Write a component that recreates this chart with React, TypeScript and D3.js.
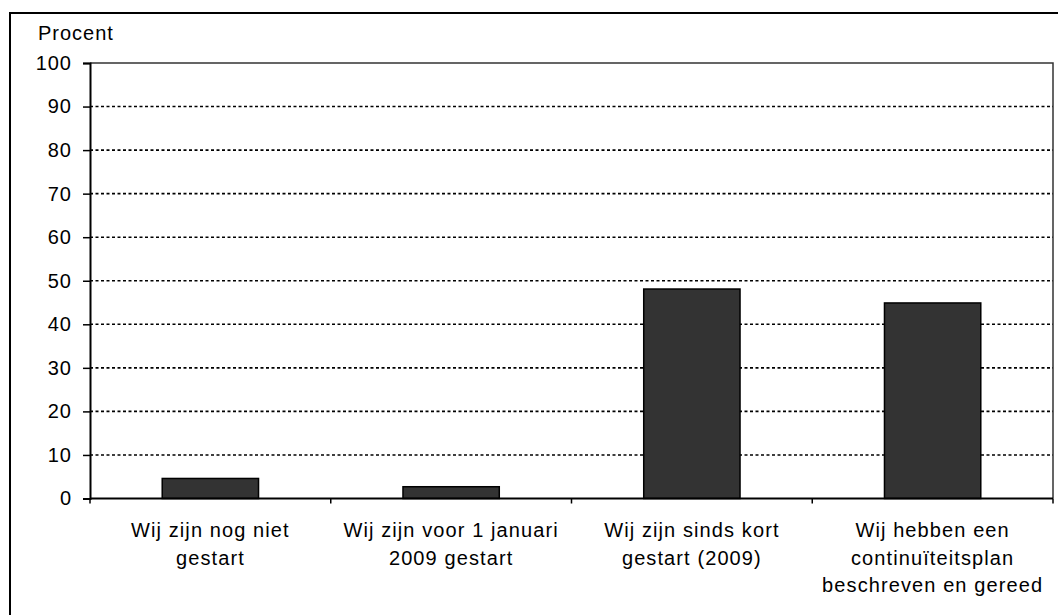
import { useEffect, useRef } from 'react';
import * as d3 from 'd3';

// Data
const categories = [
  ['Wij zijn nog niet', 'gestart'],
  ['Wij zijn voor 1 januari', '2009 gestart'],
  ['Wij zijn sinds kort', 'gestart (2009)'],
  ['Wij hebben een', 'continuïteitsplan', 'beschreven en gereed'],
];
const values = [4.6, 2.7, 48.1, 44.9];
const yTicks = [0, 10, 20, 30, 40, 50, 60, 70, 80, 90, 100];

const WIDTH = 1058;
const HEIGHT = 615;
const FONT = '"Liberation Sans", Arial, sans-serif';

const App = () => {
  const svgRef = useRef<SVGSVGElement>(null);

  useEffect(() => {
    if (!svgRef.current) return;
    document.body.style.margin = '0';

    const svg = d3.select(svgRef.current);
    svg.selectAll('*').remove();

    const left = 90, right = 1053, top = 63, bottom = 498.5;
    const keys = categories.map((c) => c.join(' '));

    const x = d3.scaleBand<string>().domain(keys).range([left, right]).padding(0);
    const y = d3.scaleLinear().domain([0, 100]).range([bottom, top]);

    // outer frame
    svg.append('rect')
      .attr('x', 10).attr('y', 13)
      .attr('width', 1200).attr('height', 800)
      .attr('fill', 'none').attr('stroke', '#000').attr('stroke-width', 2);

    // plot border (top + right)
    svg.append('path')
      .attr('d', `M${left},${top}H${right}V${bottom}`)
      .attr('fill', 'none').attr('stroke', '#333').attr('stroke-width', 1.5);

    // grid
    svg.append('g')
      .selectAll('line')
      .data(yTicks.filter((t) => t > 0 && t < 100))
      .enter().append('line')
      .attr('x1', left).attr('x2', right)
      .attr('y1', (d) => y(d)).attr('y2', (d) => y(d))
      .attr('stroke', '#000').attr('stroke-width', 1.6)
      .attr('stroke-dasharray', '3,2.5');

    // bars
    const bw = x.bandwidth() * 0.4;
    svg.append('g')
      .selectAll('rect')
      .data(values)
      .enter().append('rect')
      .attr('x', (_d, i) => (x(keys[i]) || 0) + (x.bandwidth() - bw) / 2)
      .attr('width', bw)
      .attr('y', (d) => y(d))
      .attr('height', (d) => bottom - y(d))
      .attr('fill', '#333333')
      .attr('stroke', '#000').attr('stroke-width', 1.5);

    // y axis
    const yAxis = svg.append('g')
      .attr('transform', `translate(${left},0)`)
      .call(d3.axisLeft(y).tickValues(yTicks).tickSize(7).tickPadding(11));
    yAxis.select('.domain').attr('stroke', '#000').attr('stroke-width', 2);
    yAxis.selectAll('.tick line').attr('stroke', '#000').attr('stroke-width', 1.5);
    yAxis.selectAll('.tick text')
      .attr('fill', '#000')
      .style('font-family', FONT).style('font-size', '20px')
      .style('letter-spacing', '1px');

    // x axis
    const xTicks = [left, ...keys.map((k) => (x(k) || 0) + x.bandwidth())];
    svg.append('line')
      .attr('x1', left).attr('x2', right)
      .attr('y1', bottom).attr('y2', bottom)
      .attr('stroke', '#000').attr('stroke-width', 2);
    svg.append('g')
      .selectAll('line')
      .data(xTicks)
      .enter().append('line')
      .attr('x1', (d) => d).attr('x2', (d) => d)
      .attr('y1', bottom).attr('y2', bottom + 5)
      .attr('stroke', '#000').attr('stroke-width', 1.5);

    // category labels
    const labels = svg.append('g')
      .selectAll('text')
      .data(categories)
      .enter().append('text')
      .attr('x', (_d, i) => (x(keys[i]) || 0) + x.bandwidth() / 2)
      .attr('y', 537)
      .attr('text-anchor', 'middle')
      .attr('fill', '#000')
      .style('font-family', FONT).style('font-size', '20px')
      .style('letter-spacing', '1.1px');
    labels.selectAll('tspan')
      .data((d) => d)
      .enter().append('tspan')
      .attr('x', function () {
        return (this.parentNode as SVGTextElement).getAttribute('x');
      })
      .attr('dy', (_d, i) => (i === 0 ? 0 : 27.5))
      .text((d) => d);

    // axis title
    svg.append('text')
      .attr('x', 38).attr('y', 40)
      .attr('fill', '#000')
      .style('font-family', FONT).style('font-size', '20px')
      .style('letter-spacing', '1px')
      .text('Procent');
  }, []);

  return (
    <svg
      ref={svgRef}
      width={WIDTH}
      height={HEIGHT}
      style={{ display: 'block', background: '#fff' }}
    />
  );
};

export default App;
